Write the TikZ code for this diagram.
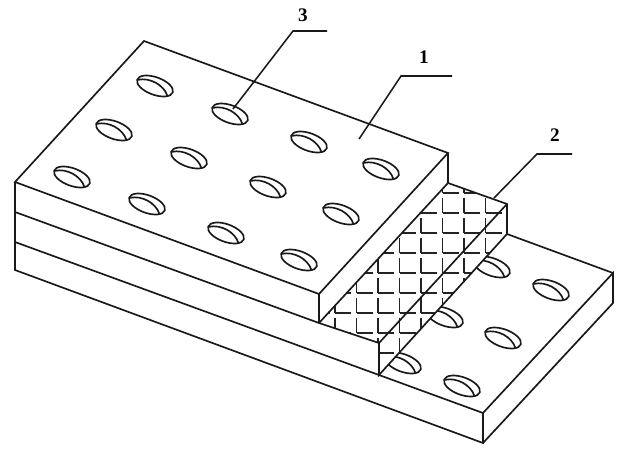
\documentclass[tikz,border=0pt]{standalone}
\usepackage{fontspec}
\setmainfont{Liberation Serif}
\tikzset{
  edgeline/.style={line width=1.25pt,color={rgb, 255:red, 25; green, 25; blue, 25 },line join=miter},
  leaderline/.style={line width=1.15pt,color={rgb, 255:red, 25; green, 25; blue, 25 }},
  meshline/.style={line width=1.15pt,color={rgb, 255:red, 35; green, 35; blue, 35 }},
  numlabel/.style={font=\bfseries\Large,inner sep=0.75pt},
  hole/.pic={
    \draw [edgeline,rotate=-20] (0,0) ellipse [x radius=18.9,y radius=8.8];
    \draw [edgeline,rotate=-20] (-18,0) .. controls (-8,6.5) and (8,4) .. (15,-5);
  }
}
\begin{document}
\begin{tikzpicture}[x=0.75pt,y=0.75pt,yscale=-1,xscale=1]
\useasboundingbox (0,0) rectangle (639,450);

%corners of the plates
\coordinate (backT) at (144,41);
\coordinate (leftT) at (15,182);
\coordinate (frontT) at (319,294);
\coordinate (rightT) at (448,153);
\coordinate (leftA) at (15,212);
\coordinate (frontA) at (319,323);
\coordinate (leftB) at (15,242);
\coordinate (leftC) at (15,270);
\coordinate (meshF) at (379,343);
\coordinate (meshG) at (379,375);
\coordinate (meshB) at (448,183);
\coordinate (meshR) at (507,204);
\coordinate (meshS) at (507,234);
\coordinate (rightP) at (613,273);
\coordinate (frontP) at (483,413);
\coordinate (frontQ) at (483,443);
\coordinate (rightQ) at (613,303);

%Holes of the lower plate
\begin{scope}
\clip (meshG) -- (meshS) -- (rightP) -- (frontP) -- cycle;
\foreach \hx/\hy in {551/290,503/338,462/386,492/267,445/317,403/363}
  \pic at (\hx,\hy) {hole};
\end{scope}

%Mesh layer
\begin{scope}
\clip (frontA) -- (meshF) -- (meshG) -- (meshS) -- (meshR) -- (meshB) -- cycle;
\foreach \i in {0,...,9}
  \foreach \j in {0,...,9}
    \draw [meshline] (335+21.5*\i-21.5,353-20*\j) -- ++(0,-15.5) (335+21.5*\i-21.5,353-20*\j) -- ++(16,0);
\end{scope}

%Outlines
\draw [edgeline] (backT) -- (rightT) -- (frontT) -- (leftT) -- cycle;
\draw [edgeline] (leftT) -- (leftC) -- (frontQ) -- (frontP) -- (rightP) -- (rightQ) -- (frontQ);
\draw [edgeline] (frontT) -- (frontA);
\draw [edgeline] (leftA) -- (frontA) -- (meshF) -- (meshG) -- (meshS) -- (meshR) -- (meshB);
\draw [edgeline] (rightT) -- (meshB) -- (frontA);
\draw [edgeline] (meshF) -- (meshR);
\draw [edgeline] (leftB) -- (meshG) -- (frontP);
\draw [edgeline] (meshS) -- (rightP);

%Holes of the upper plate
\foreach \hx/\hy in {155/86,230/114,309/142,381/169,114/130,189/158,268/187,341/214,72/177,147/204,226/233,299/260}
  \pic at (\hx,\hy) {hole};

%Labels
\node (lblA) [numlabel] at (424,57) {1};
\node (lblB) [numlabel] at (555,135) {2};
\node (lblC) [numlabel] at (303,15) {3};

%Leader lines
\coordinate (endA) at (452,76);
\coordinate (endB) at (572,154);
\coordinate (endC) at (327,31);
\draw [leaderline] (endA) -- (401,76) -- (359,139);
\draw [leaderline] (endB) -- (537,154) -- (494,198);
\draw [leaderline] (endC) -- (293,31) -- (233,109);

\end{tikzpicture}
\end{document}
